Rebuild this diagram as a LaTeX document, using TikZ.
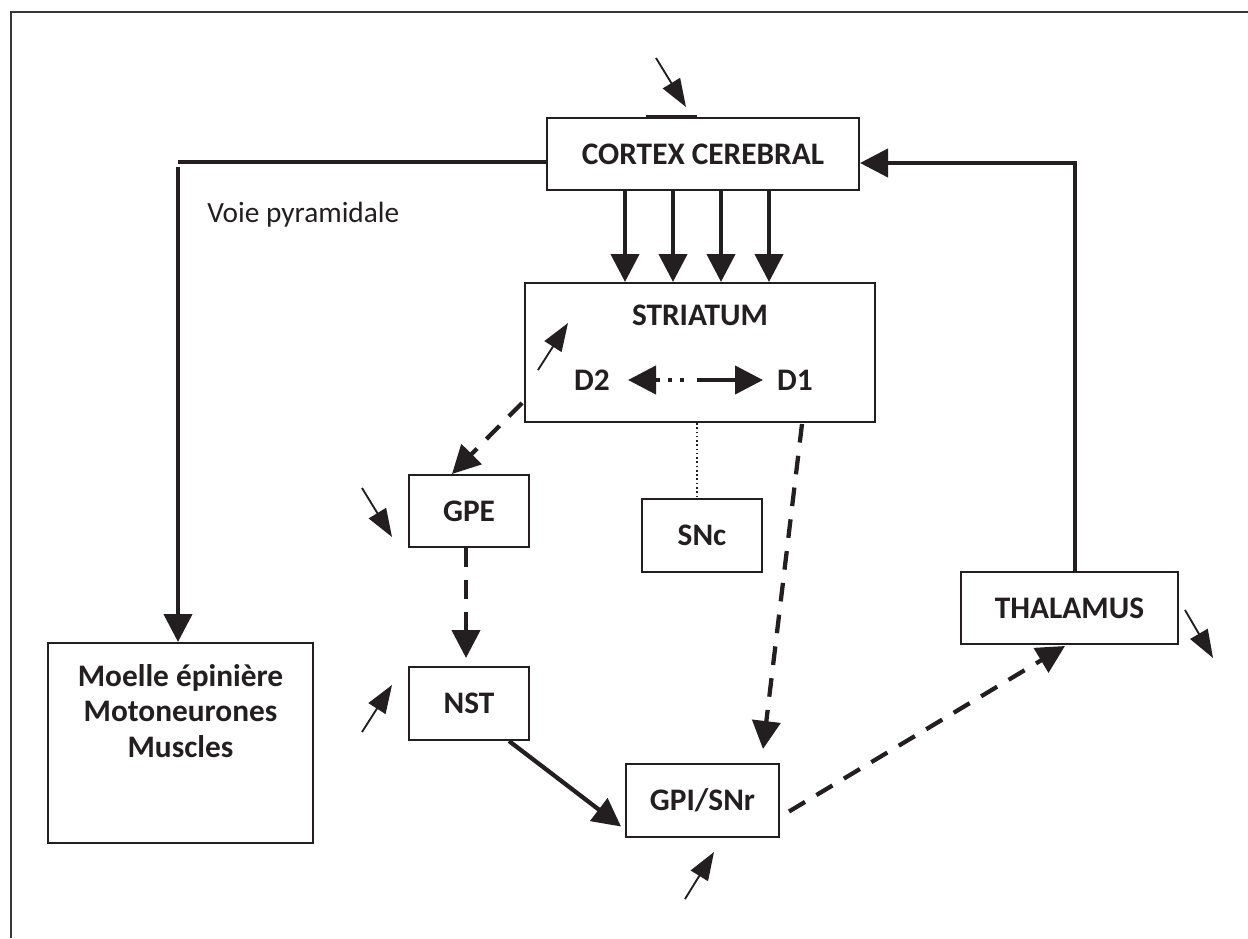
\documentclass[tikz,border=0pt]{standalone}
\usepackage{fontspec}
\setmainfont{Carlito}
\usetikzlibrary{arrows.meta}
\definecolor{ink}{HTML}{231F20}
\tikzset{
  box/.style={draw=ink, line width=1.5pt, fill=white, inner sep=0pt, font=\fontsize{23.5}{26.5}\selectfont\bfseries, text=ink},
  lbl/.style={font=\fontsize{23.5}{26.5}\selectfont\bfseries, text=ink, inner sep=0pt},
  big/.style={draw=ink, line width=3.2pt, -{Triangle[length=21pt,width=21pt]}},
  thickln/.style={draw=ink, line width=3.2pt},
  dsh/.style={big, dash pattern=on 14pt off 10pt},
  small/.style={draw=ink, line width=1.4pt, -{Triangle[length=21pt,width=15pt]}},
}
\begin{document}
\begin{tikzpicture}[x=0.75pt,y=-0.75pt]
\useasboundingbox (0,0) rectangle (1248,938);
% frame
\draw[ink!90, line width=1.6pt] (11,938) -- (11,12) -- (1248,12);
% boxes (sizes in pt = px*0.75)
\node[box, minimum width=234pt, minimum height=54pt] (cortex) at (703,154) {CORTEX CEREBRAL};
\node[box, minimum width=262.5pt, minimum height=104.25pt] (striatum) at (700,352.5) {};
\node[lbl] (stxt) at (700,315) {STRIATUM};
\node[lbl] (d2) at (592,380) {D2};
\node[lbl] (d1) at (795,380) {D1};
\node[box, minimum width=90pt, minimum height=54pt] (gpe) at (469,511) {GPE};
\node[box, minimum width=90pt, minimum height=54.75pt] (snc) at (702,535.5) {SNc};
\node[box, minimum width=90pt, minimum height=54.75pt] (nst) at (469,703.5) {NST};
\node[box, minimum width=114.75pt, minimum height=54.75pt] (gpi) at (702.5,800.5) {GPI/SNr};
\node[box, minimum width=162.75pt, minimum height=54pt] (thal) at (1069.5,608) {THALAMUS};
\node[box, minimum width=198.75pt, minimum height=150pt] (moelle) at (180.5,743) {};
\node[lbl, align=center] (mtxt) at (180.5,711) {Moelle épinière\\Motoneurones\\Muscles};
\node[anchor=west, inner sep=0pt, text=ink, font=\fontsize{22}{26}\selectfont] (voie) at (207,215) {Voie pyramidale};
% thick mark on cortex top
\draw[ink, line width=2.4pt] (cortex.north -| 646,0) -- (cortex.north -| 697,0);
% coordinates
\coordinate (pyrA) at (178,162);
\coordinate (pyrB) at (178,167);
\coordinate (thA) at (1075,163);
% pyramidal pathway
\draw[thickln] (cortex.west |- pyrA) -- (pyrA);
\draw[big] (pyrB) -- (moelle.north -| pyrB);
% cortex -> striatum
\foreach \x in {625,673,721,769}{
  \draw[big] (cortex.south -| \x,0) -- (striatum.north -| \x,0);
}
% D2 <-> D1
\coordinate (dl) at (684,380);
\coordinate (dr) at (697,380);
\draw[ink, line width=3.2pt, dash pattern=on 3pt off 6pt, -{Triangle[length=21pt,width=21pt]}] (dl) -- (628,380) coordinate (d2tip);
\draw[big] (dr) -- (763,380) coordinate (d1tip);
% striatum -> GPE
\draw[dsh] ([xshift=-1.5pt, yshift=15pt]striatum.south west) -- ([xshift=-17*0.75pt]gpe.north);
% striatum -> GPI
\draw[dsh] ([xshift=102*0.75pt, yshift=-1*0.75pt]striatum.south) -- ([xshift=60.5*0.75pt, yshift=14*0.75pt]gpi.north);
% striatum - SNc dotted
\draw[ink, line width=1.2pt, dotted] ([xshift=-3*0.75pt]striatum.south) -- ([xshift=-5*0.75pt]snc.north);
% GPE -> NST
\draw[dsh] ([xshift=-3*0.75pt]gpe.south) -- ([xshift=-3*0.75pt, yshift=8*0.75pt]nst.north);
% NST -> GPI
\draw[big] ([xshift=-21*0.75pt]nst.south east) -- ([xshift=-4*0.75pt, yshift=-26*0.75pt]gpi.west);
% GPI -> thalamus
\draw[dsh] ([xshift=9*0.75pt, yshift=-11*0.75pt]gpi.east) -- ([xshift=-4.5*0.75pt, yshift=-1*0.75pt]thal.south);
% thalamus -> cortex
\draw[big] ([xshift=5.5*0.75pt]thal.north) -- (thA) -- (cortex.east |- thA);
% small arrows
\draw[small] (656,58) -- (686,107);
\draw[small] (538,370) -- (568,323);
\draw[small] (362,488) -- (392,537);
\draw[small] (362,732) -- (392,685);
\draw[small] (685,899) -- (714,852);
\draw[small] (1185,610) -- (1213,658);
\end{tikzpicture}
\end{document}
